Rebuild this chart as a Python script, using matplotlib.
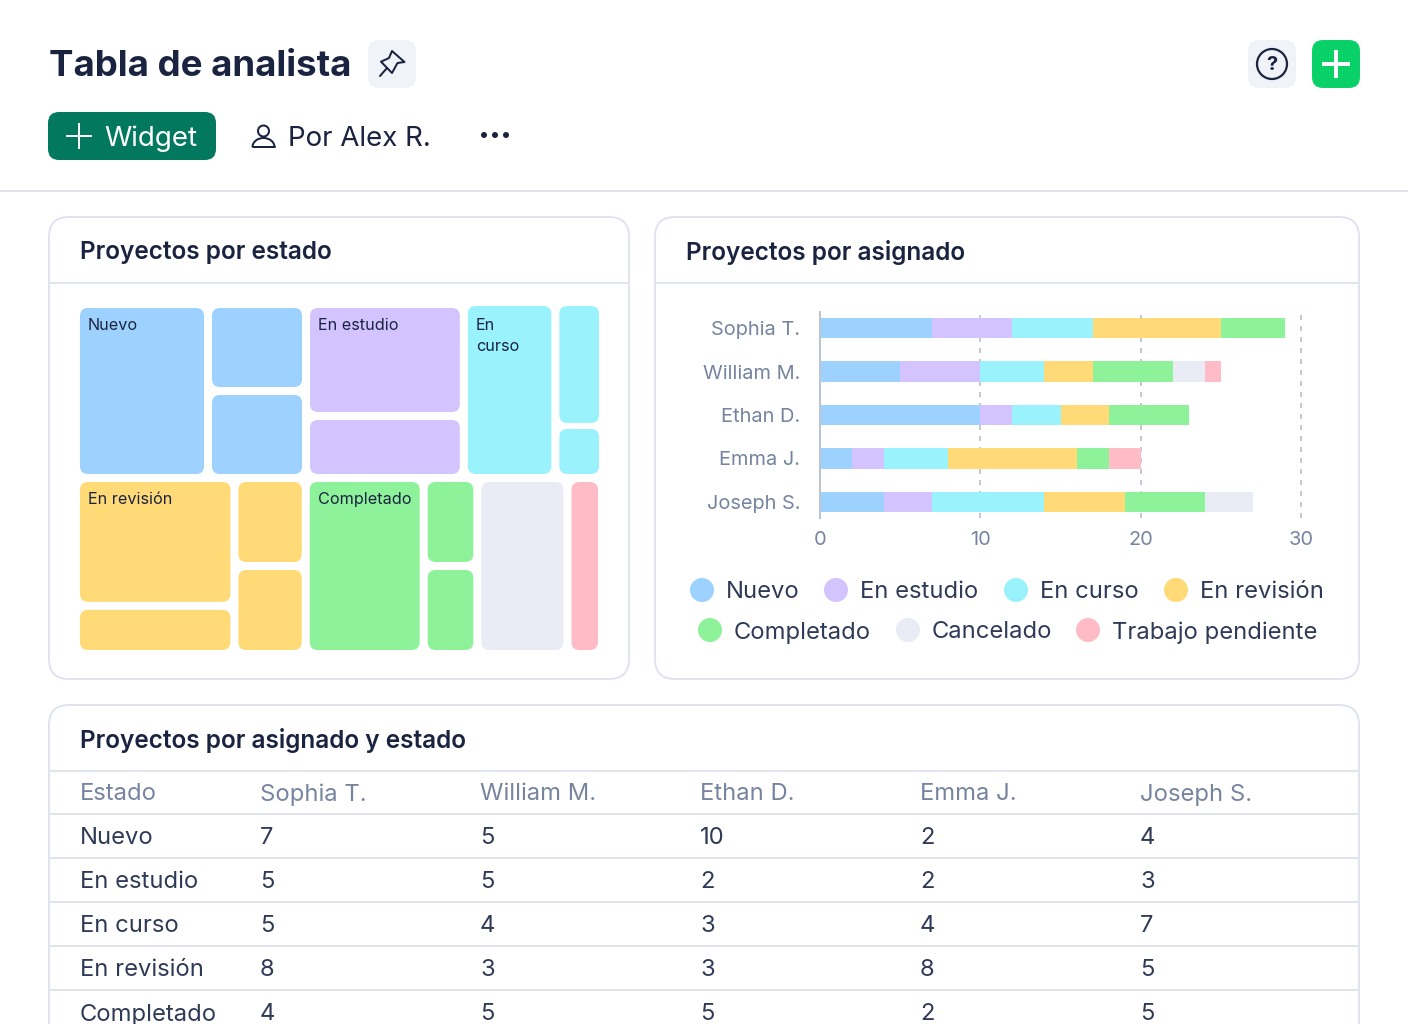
import matplotlib
matplotlib.use('Agg')
import matplotlib.pyplot as plt
from matplotlib.patches import FancyBboxPatch, Circle, Polygon, Arc

plt.rcParams['font.family'] = ['Inter', 'DejaVu Sans']

WIDTH, HEIGHT = 1408, 1024

assignees = ['Sophia T.', 'William M.', 'Ethan D.', 'Emma J.', 'Joseph S.']
statuses = ['Nuevo', 'En estudio', 'En curso', 'En revisión', 'Completado', 'Cancelado', 'Trabajo pendiente']
nuevo = [7, 5, 10, 2, 4]
en_estudio = [5, 5, 2, 2, 3]
en_curso = [5, 4, 3, 4, 7]
en_revision = [8, 3, 3, 8, 5]
completado = [4, 5, 5, 2, 5]
cancelado = [0, 2, 0, 0, 3]
pendiente = [0, 1, 0, 2, 0]
x_ticks = [0, 10, 20, 30]

# treemap areas, nested lists switch split direction
tree_nuevo = [[201], [73, 73]]
tree_estudio = [154, 80]
tree_curso = [[139], [48, 18]]
tree_revision = [[185, 62], [52, 52]]
tree_completado = [[183], [38, 38]]
tree_cancelado = 130
tree_pendiente = 42

BLUE = '#9dd2ff'
PURPLE = '#d3c3ff'
CYAN = '#9af3fc'
YELLOW = '#ffda76'
GREEN = '#8df29a'
GRAY = '#e9ecf4'
PINK = '#ffbbc6'
colors = [BLUE, PURPLE, CYAN, YELLOW, GREEN, GRAY, PINK]

DARK = '#1a2340'
BODY = '#2f3a56'
MUTED = '#76849f'
BORDER = '#dfe4ef'


def px(size):
   return size * 0.72


def box(ax, x0, y0, x1, y1, radius, **kw):
   patch = FancyBboxPatch((x0, y0), x1 - x0, y1 - y0,
                          boxstyle=f'round,pad=0,rounding_size={radius}', **kw)
   ax.add_patch(patch)
   return patch


def total(node):
   if isinstance(node, list):
      return sum(total(n) for n in node)
   return node


def layout(node, x0, y0, x1, y1, horizontal, gap, color, out):
   """
   splits the rectangle between the children of node, proportional to their area
   """
   if not isinstance(node, list):
      out.append((x0, y0, x1, y1, color))
      return
   size = (x1 - x0) if horizontal else (y1 - y0)
   free = size - gap * (len(node) - 1)
   pos = x0 if horizontal else y0
   for child in node:
      step = free * total(child) / total(node)
      if horizontal:
         layout(child, pos, y0, pos + step, y1, False, gap, color, out)
      else:
         layout(child, x0, pos, x1, pos + step, True, gap, color, out)
      pos += step + gap


def split_row(groups, x0, y0, x1, y1, gap, out):
   free = (x1 - x0) - gap * (len(groups) - 1)
   whole = sum(total(g[0]) for g in groups)
   pos = x0
   for node, color, horizontal in groups:
      step = free * total(node) / whole
      layout(node, pos, y0, pos + step, y1, horizontal, gap, color, out)
      pos += step + gap


fig = plt.figure(figsize=(WIDTH / 100, HEIGHT / 100), dpi=100, facecolor='white')
ax = fig.add_axes([0, 0, 1, 1])
ax.set_xlim(0, WIDTH)
ax.set_ylim(HEIGHT, 0)
ax.axis('off')

# ---------- header ----------
ax.text(49, 63, 'Tabla de analista', fontsize=px(36.6), fontweight='bold', color=DARK, va='center_baseline')
box(ax, 368, 40, 416, 88, 11, fc='#f0f3f8', ec='none')
ax.add_patch(Polygon([(392, 51), (404.5, 62), (397.5, 63), (392, 73), (381, 61.7), (389, 58)],
                     closed=True, fc='none', ec=DARK, lw=px(2), joinstyle='round'))
ax.plot([380, 387], [76, 68], color=DARK, lw=px(2), solid_capstyle='round')

box(ax, 1248, 40, 1296, 88, 11, fc='#f0f3f8', ec='none')
ax.add_patch(Circle((1272, 64), 15, fc='none', ec=DARK, lw=px(2.2)))
ax.text(1272, 65, '?', fontsize=px(20), fontweight='bold', color=DARK, ha='center', va='center')
box(ax, 1312, 40, 1360, 88, 11, fc='#09d168', ec='none')
ax.plot([1324, 1348], [64, 64], color='white', lw=px(4))
ax.plot([1336, 1336], [52, 76], color='white', lw=px(4))

box(ax, 48, 112, 216, 160, 11, fc='#02795f', ec='none')
ax.plot([67, 91], [136, 136], color='white', lw=px(2))
ax.plot([79, 79], [124, 148], color='white', lw=px(2))
ax.text(104, 136, 'Widget', fontsize=px(27.7), color='white', va='center_baseline')

ax.add_patch(Circle((263.5, 131), 5.5, fc='none', ec=DARK, lw=px(2)))
ax.add_patch(Arc((263.5, 147), 22, 18, theta1=180, theta2=360, ec=DARK, lw=px(2)))
ax.plot([252.5, 274.5], [147, 147], color=DARK, lw=px(2), solid_capstyle='round')
ax.text(288, 136, 'Por Alex R.', fontsize=px(27.7), color=DARK, va='center_baseline')
for dot_x in [484, 495, 506]:
   ax.add_patch(Circle((dot_x, 135), 3, fc=DARK, ec='none'))

ax.plot([0, WIDTH], [191, 191], color=BORDER, lw=px(2))

# ---------- cards ----------
box(ax, 49, 217, 629, 679, 20, fc='white', ec=BORDER, lw=px(2))
box(ax, 655, 217, 1359, 679, 20, fc='white', ec=BORDER, lw=px(2))
box(ax, 49, 705, 1359, 1060, 20, fc='white', ec=BORDER, lw=px(2))
ax.plot([49, 629], [283, 283], color=BORDER, lw=px(2))
ax.plot([655, 1359], [283, 283], color=BORDER, lw=px(2))
for title, tx, ty in [('Proyectos por estado', 80, 250), ('Proyectos por asignado', 686, 250),
                      ('Proyectos por asignado y estado', 80, 738)]:
   ax.text(tx, ty, title, fontsize=px(24.4), fontweight='semibold', color=DARK, va='center_baseline')

# ---------- treemap ----------
cells = []
split_row([(tree_nuevo, BLUE, True), (tree_estudio, PURPLE, False), (tree_curso, CYAN, True)],
          80, 308, 599, 474, 8, cells)
split_row([(tree_revision, YELLOW, True), (tree_completado, GREEN, True),
           (tree_cancelado, GRAY, True), (tree_pendiente, PINK, True)],
          80, 482, 598, 650, 8, cells)
for x0, y0, x1, y1, color in cells:
   if color == CYAN:
      y0 -= 2
   box(ax, x0, y0, x1, y1, 8, fc=color, ec='none')
for label, lx, ly in [('Nuevo', 88, 327), ('En estudio', 318, 327), ('En\ncurso', 476, 327),
                      ('En revisión', 88, 501), ('Completado', 318, 501)]:
   ax.text(lx, ly - 9, label, fontsize=px(16.2), color=DARK, va='top', linespacing=1.5)

# ---------- stacked bars ----------
bar_ax = fig.add_axes([820 / WIDTH, 1 - 518 / HEIGHT, (1301 - 820) / WIDTH, (518 - 312) / HEIGHT])
bar_ax.patch.set_alpha(0)
series = [nuevo, en_estudio, en_curso, en_revision, completado, cancelado, pendiente]
left = [0] * len(assignees)
for values, color in zip(series, colors):
   bar_ax.barh(assignees, values, left=left, height=0.46, color=color, zorder=3)
   left = [a + b for a, b in zip(left, values)]
bar_ax.set_xlim(0, 30)
bar_ax.set_ylim(4.368, -0.368)
bar_ax.set_xticks(x_ticks)
bar_ax.tick_params(axis='both', length=0, labelsize=px(20), labelcolor=MUTED)
bar_ax.tick_params(axis='y', pad=px(20))
bar_ax.tick_params(axis='x', pad=px(13))
bar_ax.grid(axis='x', color='#c3c9d8', linestyle=(0, (2.5, 3)), linewidth=px(2), zorder=0)
bar_ax.grid(axis='y', visible=False)
for line in bar_ax.get_xgridlines():
   line.set_clip_on(False)
for side in ['top', 'right', 'bottom']:
   bar_ax.spines[side].set_visible(False)
bar_ax.spines['left'].set_color('#bcc4d4')
bar_ax.spines['left'].set_linewidth(px(2))
bar_ax.spines['left'].set_zorder(4)

# legend is laid out by hand, rows are centered in the card
legend_pos = [(702, 590), (836, 590), (1016, 590), (1176, 590), (710, 630), (908, 630), (1088, 630)]
for label, color, (cx, cy) in zip(statuses, colors, legend_pos):
   ax.add_patch(Circle((cx, cy), 12, fc=color, ec='none'))
   ax.text(cx + 24, cy, label, fontsize=px(23.8), color=BODY, va='center_baseline')

# ---------- table ----------
col_x = [80, 260, 480, 700, 920, 1140]
header_y = 792
row_y = [836, 880, 924, 968, 1012]
for y in [771, 814, 858, 902, 946, 990]:
   ax.plot([49, 1359], [y, y], color=BORDER, lw=px(2))
for x, label in zip(col_x, ['Estado'] + assignees):
   ax.text(x, header_y, label, fontsize=px(23.8), color=MUTED, va='center_baseline')
for y, status, values in zip(row_y, statuses, series):
   ax.text(col_x[0], y, status, fontsize=px(23.8), color=BODY, va='center_baseline')
   for x, value in zip(col_x[1:], values):
      ax.text(x, y, str(value), fontsize=px(23.8), color=BODY, va='center_baseline')

fig.savefig('out.png', dpi=100)
